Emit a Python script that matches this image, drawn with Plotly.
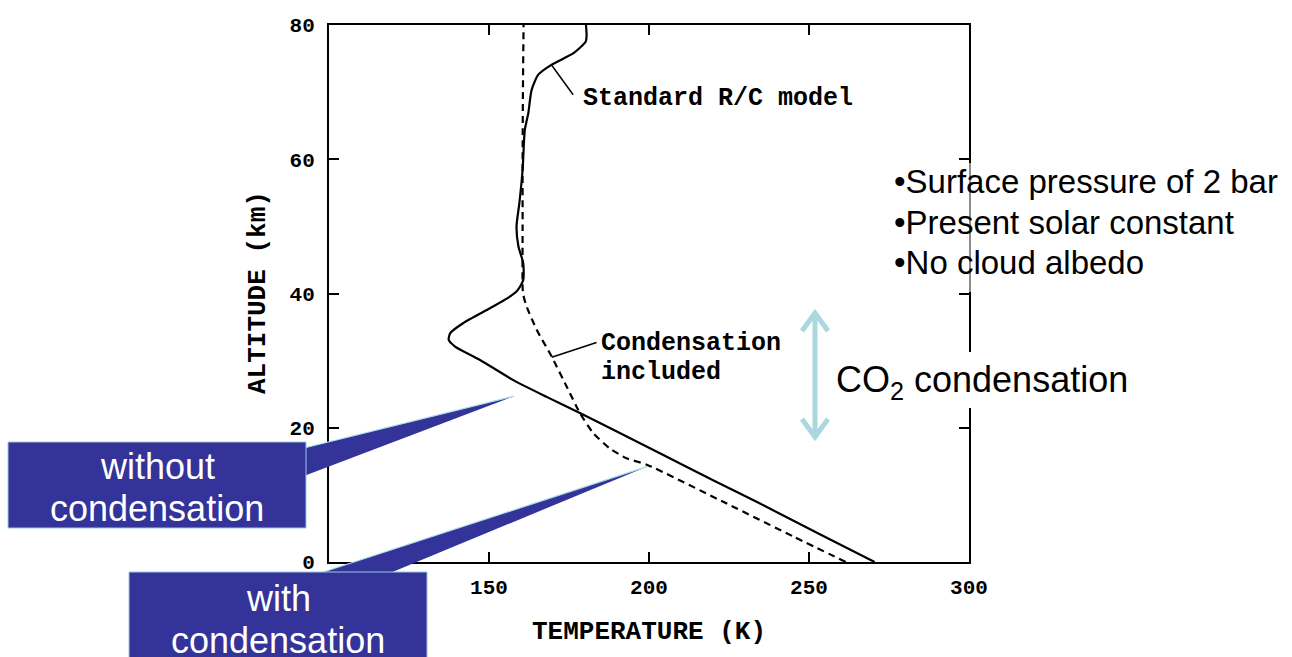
import plotly.graph_objects as go

# ---------------- data ----------------
# Standard R/C model (without condensation): altitude (km) and temperature (K)
alt_no_cond = [0, 4, 8.7, 12, 16.2, 19, 22.2, 24.6, 27.1, 30.1, 32.1, 33.1, 34.1,
               35.6, 37.8, 39.3, 40.4, 42, 44.5, 47, 50, 53.5, 58.4, 64.4, 66.9,
               70.3, 72.6, 74.1, 75.8, 77.5, 78.5, 80]
temp_no_cond = [270.5, 254, 234.7, 220.8, 203.4, 191.8, 178.4, 168, 157.6, 147.2,
                139.4, 137.4, 137.9, 142, 150.3, 155.8, 158.8, 160.7, 160.7, 159.2,
                158.6, 159.5, 160.5, 161.2, 162.3, 163.3, 165.4, 169.6, 176.4, 180.2,
                180.5, 180.3]

# Condensation included
alt_cond = [0, 3.8, 8.7, 14.5, 15.45, 16.9, 19.2, 22.2, 26.1, 30.6, 34.6, 38,
            39.8, 41, 50, 60, 70, 80]
temp_cond = [261.5, 245.1, 224.3, 199.3, 193, 187.8, 182.6, 178.4, 174.3, 169.6,
             164.9, 161.8, 160.7, 160.5, 160.5, 160.5, 160.6, 160.8]

x_ticks = [100, 150, 200, 250, 300]
y_ticks = [0, 20, 40, 60, 80]
x_range = [100, 300]
y_range = [0, 80]

# ---------------- layout geometry ----------------
W, H = 1292, 657
ML, MR, MT, MB = 329, 323, 25, 95
PW, PH = W - ML - MR, H - MT - MB

def pp(xpix, ypix):
    """pixel position on the page -> paper coordinates"""
    return (xpix - ML) / PW, (H - MB - ypix) / PH

def dp(t, a):
    """data position -> paper coordinates"""
    return ((t - x_range[0]) / (x_range[1] - x_range[0]),
            (a - y_range[0]) / (y_range[1] - y_range[0]))

MONO = "Liberation Mono"
SANS = "Liberation Sans, Arial, sans-serif"
NAVY = "#333399"
CYAN = "#aad8df"
EDGE = "#a8dde6"

fig = go.Figure()
fig.add_trace(go.Scatter(x=temp_no_cond, y=alt_no_cond, mode="lines",
                         line=dict(color="black", width=2.2, shape="spline", smoothing=0.6),
                         showlegend=False, hoverinfo="skip"))
fig.add_trace(go.Scatter(x=temp_cond, y=alt_cond, mode="lines",
                         line=dict(color="black", width=2.2, dash="7px,5px",
                                   shape="spline", smoothing=0.6),
                         showlegend=False, hoverinfo="skip"))

shapes = []
annots = []

def rect_px(x0, y0, x1, y1, fill, line=None, lw=0):
    a = pp(x0, y0); b = pp(x1, y1)
    shapes.append(dict(type="rect", xref="paper", yref="paper",
                       x0=a[0], y0=a[1], x1=b[0], y1=b[1], fillcolor=fill,
                       line=dict(color=line or fill, width=lw), layer="above"))

def path_paper(points, fill=None, line=None, lw=0, close=True):
    d = "M " + " L ".join(f"{x:.5f},{y:.5f}" for x, y in points)
    if close:
        d += " Z"
    s = dict(type="path", xref="paper", yref="paper", path=d, layer="above",
             line=dict(color=line or "rgba(0,0,0,0)", width=lw))
    if fill:
        s["fillcolor"] = fill
    shapes.append(s)

# backdrops of the text blocks on the right
rect_px(884, 163, 1292, 292, "rgba(255,255,255,0.55)")
rect_px(828, 352, 1142, 408, "white")

# CO2 condensation double arrow
path_paper([pp(815, 313), pp(815, 437)], line=CYAN, lw=5, close=False)
path_paper([pp(802, 331), pp(815, 313), pp(828, 331)], line=CYAN, lw=5, close=False)
path_paper([pp(802, 419), pp(815, 437), pp(828, 419)], line=CYAN, lw=5, close=False)

# leader lines for the curve labels (data coordinates)
shapes.append(dict(type="line", xref="x", yref="y", x0=169.6, y0=74.0, x1=176.3, y1=69.6,
                   line=dict(color="black", width=1.5), layer="above"))
shapes.append(dict(type="line", xref="x", yref="y", x0=169.6, y0=30.5, x1=183.6, y1=32.7,
                   line=dict(color="black", width=1.5), layer="above"))

# callout wedges
tip1 = dp(157.8, 24.7)
tip2 = dp(199.3, 14.2)
path_paper([pp(296, 450), tip1, pp(296, 479)], fill=NAVY)
path_paper([pp(296, 450), tip1], line=EDGE, lw=1.2, close=False)
path_paper([pp(305, 578), tip2, pp(378, 578)], fill=NAVY)
path_paper([pp(305, 578), tip2], line=EDGE, lw=1.2, close=False)

# callout boxes
rect_px(8, 442, 306, 528, NAVY, line="#9cc9dc", lw=1)
rect_px(129, 572, 427, 665, NAVY, line="#9cc9dc", lw=1)

def text_px(x, y, txt, size, color="black", family=SANS, xanchor="center",
            weight="normal", angle=0):
    px_, py_ = pp(x, y)
    annots.append(dict(x=px_, y=py_, xref="paper", yref="paper", text=txt,
                       showarrow=False, xanchor=xanchor, yanchor="middle",
                       textangle=angle, borderpad=0,
                       font=dict(family=family, size=size, color=color, weight=weight)))

def text_data(t, a, txt, size):
    annots.append(dict(x=t, y=a, xref="x", yref="y", text=txt, showarrow=False,
                       xanchor="left", yanchor="middle", borderpad=0,
                       font=dict(family=MONO, size=size, color="black", weight="bold")))

text_data(179.1, 69.1, "Standard R/C model", 25)
text_data(184.7, 32.6, "Condensation", 25)
text_data(184.7, 28.3, "included", 25)

text_px(893, 181, "•Surface pressure of 2 bar", 33, xanchor="left")
text_px(893, 222, "•Present solar constant", 33, xanchor="left")
text_px(893, 262, "•No cloud albedo", 33, xanchor="left")
text_px(835, 382, "CO<sub>2</sub> condensation", 36, xanchor="left")

text_px(157, 466, "without", 36, color="white")
text_px(157, 509, "condensation", 36, color="white")
text_px(278, 598, "with", 36, color="white")
text_px(278, 640, "condensation", 36, color="white")

text_px(649, 632, "TEMPERATURE (K)", 26, family=MONO, weight="bold")
text_px(258, 293, "ALTITUDE (km)", 26, family=MONO, weight="bold", angle=-90)

axis_common = dict(showline=True, linecolor="black", linewidth=2, mirror="ticks",
                   ticks="inside", ticklen=10, tickwidth=2, tickcolor="black",
                   showgrid=False, zeroline=False,
                   tickfont=dict(family=MONO, size=21, color="black", weight="bold"))

fig.update_layout(
    width=W, height=H,
    margin=dict(l=ML, r=MR, t=MT, b=MB, pad=0),
    paper_bgcolor="white", plot_bgcolor="white",
    xaxis=dict(range=x_range, tickvals=x_ticks, ticklabelstandoff=5, **axis_common),
    yaxis=dict(range=y_range, tickvals=y_ticks, ticklabelstandoff=8, **axis_common),
    shapes=shapes, annotations=annots, showlegend=False,
)

fig.write_html("out.html")
